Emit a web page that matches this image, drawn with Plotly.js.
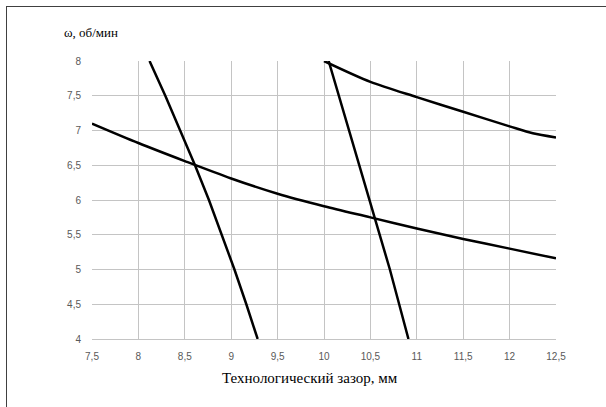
<!DOCTYPE html>
<html>
<head>
<meta charset="utf-8">
<script src="https://cdn.plot.ly/plotly-3.0.1.min.js"></script>
<style>
  html, body { margin: 0; padding: 0; background: #fff; }
  #wrap { position: relative; width: 606px; height: 407px; overflow: hidden; }
  #chart { width: 606px; height: 407px; }
  #frame { position: absolute; left: 6px; top: 6px; width: 700px; height: 500px;
           border-top: 1.5px solid #404040; border-left: 1.5px solid #404040; pointer-events: none; }
</style>
</head>
<body>
<div id="wrap">
  <div id="chart"></div>
  <div id="frame"></div>
</div>
<script>
// Curve A: steep left line (x as function of y)
const aY = [8, 7.5, 7, 6.5, 6, 5.5, 5, 4.5, 4];
const aX = [8.12, 8.29, 8.45, 8.61, 8.76, 8.90, 9.035, 9.163, 9.285];

// Curve B: shallow lower curve
const bX = [7.5, 8, 8.5, 9, 9.5, 10, 10.5, 11, 11.5, 12, 12.5];
const bY = [7.10, 6.82, 6.56, 6.31, 6.09, 5.91, 5.75, 5.59, 5.44, 5.30, 5.16];

// Curve C: upper right curve
const cX = [10.0, 10.5, 11, 11.5, 12, 12.25, 12.5];
const cY = [8.0, 7.70, 7.48, 7.27, 7.06, 6.96, 6.90];

// Curve D: steep right line
const dY = [8, 7.5, 7, 6.5, 6, 5.5, 5, 4.5, 4];
const dX = [10.05, 10.16, 10.27, 10.38, 10.49, 10.605, 10.71, 10.81, 10.91];

const xTickVals = [7.5, 8, 8.5, 9, 9.5, 10, 10.5, 11, 11.5, 12, 12.5];
const xTickText = ['7,5', '8', '8,5', '9', '9,5', '10', '10,5', '11', '11,5', '12', '12,5'];
const yTickVals = [4, 4.5, 5, 5.5, 6, 6.5, 7, 7.5, 8];
const yTickText = ['4', '4,5', '5', '5,5', '6', '6,5', '7', '7,5', '8'];

const yTitle = 'ω, об/мин';
const xTitle = 'Технологический зазор, мм';

const curvy = { color: '#000000', width: 2.5, shape: 'spline', smoothing: 0.8 };
const straight = { color: '#000000', width: 2.5, shape: 'linear' };
const traces = [
  { x: aX, y: aY, mode: 'lines', line: straight, hoverinfo: 'skip' },
  { x: bX, y: bY, mode: 'lines', line: curvy, hoverinfo: 'skip' },
  { x: cX, y: cY, mode: 'lines', line: curvy, hoverinfo: 'skip' },
  { x: dX, y: dY, mode: 'lines', line: straight, hoverinfo: 'skip' }
];

const tickFont = { family: 'Liberation Sans, Arial, sans-serif', size: 10, color: '#595959' };

const layout = {
  width: 606, height: 407,
  margin: { l: 92, r: 50, t: 61, b: 68, pad: 0 },
  paper_bgcolor: '#ffffff', plot_bgcolor: '#ffffff',
  showlegend: false,
  xaxis: {
    range: [7.5, 12.5], tickmode: 'array', tickvals: xTickVals, ticktext: xTickText,
    showgrid: true, gridcolor: '#c4c4c4', gridwidth: 1,
    zeroline: false, showline: true, linecolor: '#c4c4c4', linewidth: 1,
    ticks: '', tickfont: tickFont, ticklabelstandoff: 8, fixedrange: true
  },
  yaxis: {
    range: [4, 8], tickmode: 'array', tickvals: yTickVals, ticktext: yTickText,
    showgrid: true, gridcolor: '#c4c4c4', gridwidth: 1,
    zeroline: false, showline: false,
    ticks: '', tickfont: tickFont, ticklabelstandoff: 10, fixedrange: true
  },
  annotations: [
    { text: yTitle, xref: 'paper', yref: 'paper', x: (62 - 92) / 463.7, y: (407 - 68 - 33) / 278,
      xanchor: 'left', yanchor: 'middle', showarrow: false,
      font: { family: 'Liberation Serif, Times New Roman, serif', size: 13, color: '#000000' } },
    { text: xTitle, xref: 'paper', yref: 'paper', x: (310 - 92) / 463.7, y: (407 - 68 - 378) / 278,
      xanchor: 'center', yanchor: 'middle', showarrow: false,
      font: { family: 'Liberation Serif, Times New Roman, serif', size: 15, color: '#000000' } }
  ]
};

Plotly.newPlot('chart', traces, layout, { displayModeBar: false, staticPlot: true });
</script>
</body>
</html>
